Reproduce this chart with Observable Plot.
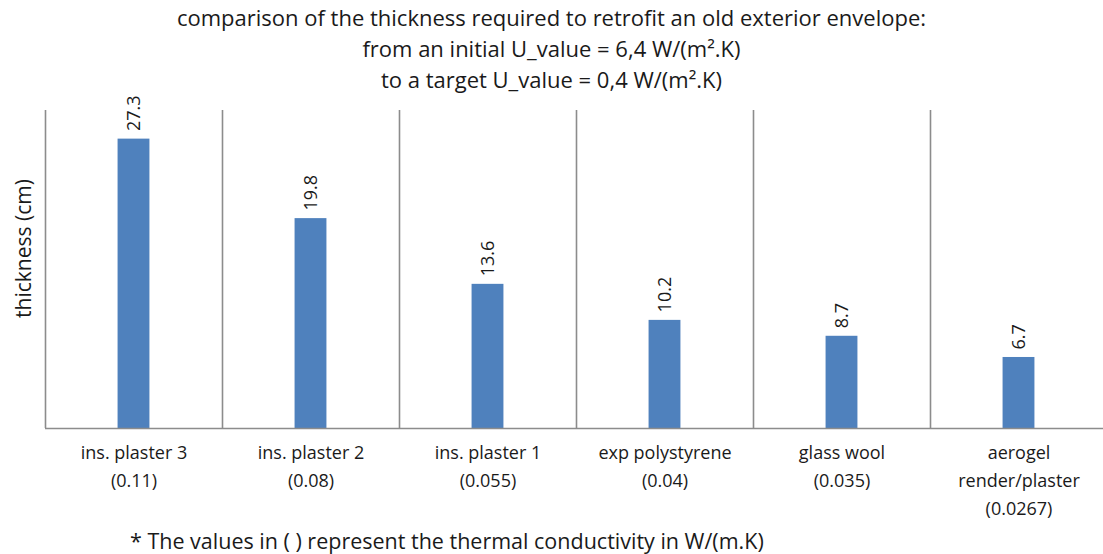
<!DOCTYPE html>
<html>
<head>
<meta charset="utf-8">
<script src="https://cdn.jsdelivr.net/npm/d3@7"></script>
<script src="https://cdn.jsdelivr.net/npm/@observablehq/plot@0.6"></script>
<style>
  html, body { margin: 0; padding: 0; background: #fff; width: 1103px; height: 554px; overflow: hidden; position: relative; }
  body { font-family: "Open Sans", sans-serif; color: #1a1a1a; }
  #title { position: absolute; left: 0; top: 2px; width: 1103px; text-align: center; font-size: 22px; line-height: 31px; z-index: 2; }
  #chart { position: absolute; left: 0; top: 80px; }
  #chart svg { overflow: visible; }
  #foot { position: absolute; left: 130px; top: 528px; font-size: 21.5px; line-height: 25px; white-space: nowrap; z-index: 2; }
</style>
</head>
<body>
<div id="title">
  <div>comparison of the thickness required to retrofit an old exterior envelope:</div>
  <div>from an initial U_value = 6,4 W/(m².K)</div>
  <div>to a target U_value = 0,4 W/(m².K)</div>
</div>
<div id="chart"></div>
<div id="foot">* The values in ( ) represent the thermal conductivity in W/(m.K)</div>
<script>
const materials = ["ins. plaster 3", "ins. plaster 2", "ins. plaster 1", "exp polystyrene", "glass wool", "aerogel\nrender/plaster"];
const conductivity = ["0.11", "0.08", "0.055", "0.04", "0.035", "0.0267"];
const thickness = [27.3, 19.8, 13.6, 10.2, 8.7, 6.7];
const yLabel = "thickness (cm)";

const data = materials.map((m, i) => ({
  i,
  label: m + "\n(" + conductivity[i] + ")",
  value: thickness[i]
}));
const separators = d3.range(materials.length);

const grey = "#8c8c8c";
const chart = Plot.plot({
  width: 1103,
  height: 440,
  marginTop: 30,
  marginBottom: 92,
  marginLeft: 45,
  marginRight: 0,
  style: { fontFamily: "'Open Sans', sans-serif", color: "#1a1a1a", background: "transparent", overflow: "visible" },
  x: { type: "linear", domain: [0, materials.length], range: [45, 1107], axis: null },
  y: { domain: [0, 30], axis: null },
  marks: [
    Plot.ruleX(separators, { x: d => d, y1: 0, y2: 30, stroke: grey, strokeWidth: 1.6 }),
    Plot.rectY(data, { x1: d => d.i + 0.41, x2: d => d.i + 0.59, y1: 0, y2: "value", fill: "#4f81bd" }),
    Plot.ruleY([0], { x1: 0, x2: materials.length, stroke: grey, strokeWidth: 1.6 }),
    Plot.text(data, { x: d => d.i + 0.5, y: "value", text: d => d.value.toFixed(1), rotate: -90, textAnchor: "start", dy: -8, fontSize: 18, fill: "#1a1a1a" }),
    Plot.text(data, { x: d => d.i + 0.5, y: 0, text: "label", lineAnchor: "top", dy: 10, lineHeight: 1.57, fontSize: 18, fill: "#1a1a1a" }),
    Plot.text([yLabel], { frameAnchor: "left", textAnchor: "middle", rotate: -90, dx: -21, dy: -21, fontSize: 21, fill: "#1a1a1a" })
  ]
});
document.getElementById("chart").appendChild(chart);
</script>
</body>
</html>
